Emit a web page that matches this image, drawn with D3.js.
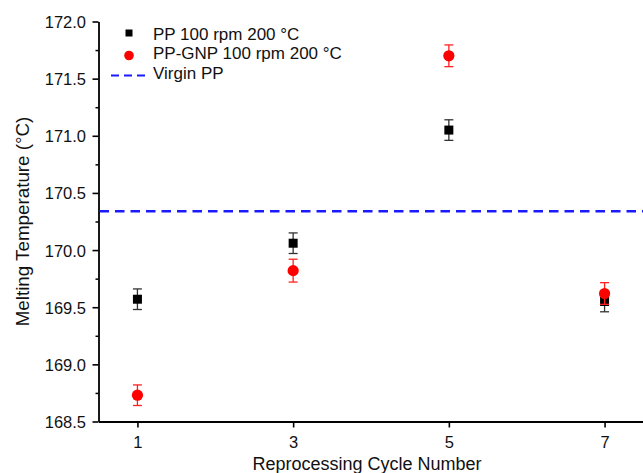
<!DOCTYPE html>
<html>
<head>
<meta charset="utf-8">
<script src="https://cdn.jsdelivr.net/npm/d3@7"></script>
<style>
  html, body { margin: 0; padding: 0; background: #fff; }
  svg { display: block; font-family: "Liberation Sans", Arial, sans-serif; }
</style>
</head>
<body>
<svg id="chart" width="643" height="473"></svg>
<script>
// Reprocessing cycles and melting temperatures (°C) with standard deviations
const cycles = [1, 3, 5, 7];
const ppValues = [169.57, 170.06, 171.05, 169.55];
const ppErrors = [0.09, 0.09, 0.09, 0.09];
const gnpValues = [168.73, 169.82, 171.70, 169.62];
const gnpErrors = [0.09, 0.10, 0.095, 0.095];
const virginPP = 170.34;

const xTicks = [1, 3, 5, 7];
const yTicks = [168.5, 169.0, 169.5, 170.0, 170.5, 171.0, 171.5, 172.0];
const yMinorTicks = [168.75, 169.25, 169.75, 170.25, 170.75, 171.25, 171.75];

const seriesNames = ["PP 100 rpm 200 °C", "PP-GNP 100 rpm 200 °C", "Virgin PP"];
const xTitle = "Reprocessing Cycle Number";
const yTitle = "Melting Temperature (°C)";

const svg = d3.select("#chart");

const x = d3.scaleLinear().domain([0.5, 7.5]).range([98.5, 643.5]);
const y = d3.scaleLinear().domain([168.5, 172.0]).range([421.5, 21.5]);

// Axes
const xAxis = svg.append("g")
  .attr("transform", `translate(0,${y(168.5)})`)
  .call(d3.axisBottom(x).tickValues(xTicks).tickFormat(d3.format("d")).tickSize(6).tickSizeOuter(0));

const yAxis = svg.append("g")
  .attr("transform", `translate(${x(0.5)},0)`)
  .call(d3.axisLeft(y).tickValues(yTicks).tickFormat(d3.format(".1f")).tickSize(6).tickSizeOuter(0));

svg.append("g")
  .attr("transform", `translate(${x(0.5)},0)`)
  .call(d3.axisLeft(y).tickValues(yMinorTicks).tickFormat("").tickSize(3).tickSizeOuter(0))
  .call(g => g.select(".domain").remove())
  .selectAll("line").attr("stroke", "#000").attr("stroke-width", 1.5);

[xAxis, yAxis].forEach(g => {
  g.select(".domain").attr("stroke", "#000").attr("stroke-width", 1.8);
  g.selectAll(".tick line").attr("stroke", "#000").attr("stroke-width", 1.6);
  g.selectAll(".tick text")
    .attr("fill", "#111")
    .style("font-size", "16.5px")
    .style("font-family", "'Liberation Sans', Arial, sans-serif");
});
xAxis.selectAll(".tick text").attr("dy", "1.05em");
yAxis.selectAll(".tick text").attr("x", -12.5).attr("dy", "0.36em");

// Axis titles
svg.append("text")
  .attr("x", 367).attr("y", 469.5)
  .attr("text-anchor", "middle")
  .style("font-size", "18px")
  .attr("fill", "#111")
  .text(xTitle);

svg.append("text")
  .attr("transform", `translate(29,221.5) rotate(-90)`)
  .attr("text-anchor", "middle")
  .style("font-size", "18.8px")
  .attr("fill", "#111")
  .text(yTitle);

// Virgin PP reference line
svg.append("line")
  .attr("x1", x(0.5) + 1).attr("x2", x(7.5))
  .attr("y1", y(virginPP)).attr("y2", y(virginPP))
  .attr("stroke", "#1a1aff")
  .attr("stroke-width", 2.4)
  .attr("stroke-dasharray", "9.5,6");

// Error bars
function drawErrors(values, errors, color) {
  const g = svg.append("g").attr("stroke", color).attr("stroke-width", 1.3);
  const cap = 4.5;
  cycles.forEach((c, i) => {
    const cx = x(c), top = y(values[i] + errors[i]), bot = y(values[i] - errors[i]);
    g.append("line").attr("x1", cx).attr("x2", cx).attr("y1", top).attr("y2", bot);
    g.append("line").attr("x1", cx - cap).attr("x2", cx + cap).attr("y1", top).attr("y2", top);
    g.append("line").attr("x1", cx - cap).attr("x2", cx + cap).attr("y1", bot).attr("y2", bot);
  });
}

// PP series (black squares)
drawErrors(ppValues, ppErrors, "#333");
svg.append("g").selectAll("rect")
  .data(cycles)
  .join("rect")
  .attr("x", d => x(d) - 4.5)
  .attr("y", (d, i) => y(ppValues[i]) - 4.5)
  .attr("width", 9).attr("height", 9)
  .attr("fill", "#000");

// PP-GNP series (red circles)
drawErrors(gnpValues, gnpErrors, "#ff2020");
svg.append("g").selectAll("circle")
  .data(cycles)
  .join("circle")
  .attr("cx", d => x(d))
  .attr("cy", (d, i) => y(gnpValues[i]))
  .attr("r", 5.6)
  .attr("fill", "#ff0000");

// Legend
const legend = svg.append("g").style("font-size", "17px").attr("fill", "#111");
legend.append("rect").attr("x", 125.5).attr("y", 29.5).attr("width", 7).attr("height", 7).attr("fill", "#000");
legend.append("circle").attr("cx", 129).attr("cy", 55.5).attr("r", 4.8).attr("fill", "#ff0000");
legend.append("line")
  .attr("x1", 111).attr("x2", 150).attr("y1", 75.5).attr("y2", 75.5)
  .attr("stroke", "#1a1aff").attr("stroke-width", 2.2).attr("stroke-dasharray", "8,5");
legend.selectAll("text")
  .data(seriesNames)
  .join("text")
  .attr("x", 153)
  .attr("y", (d, i) => 39.5 + i * 19.5)
  .text(d => d);
</script>
</body>
</html>
